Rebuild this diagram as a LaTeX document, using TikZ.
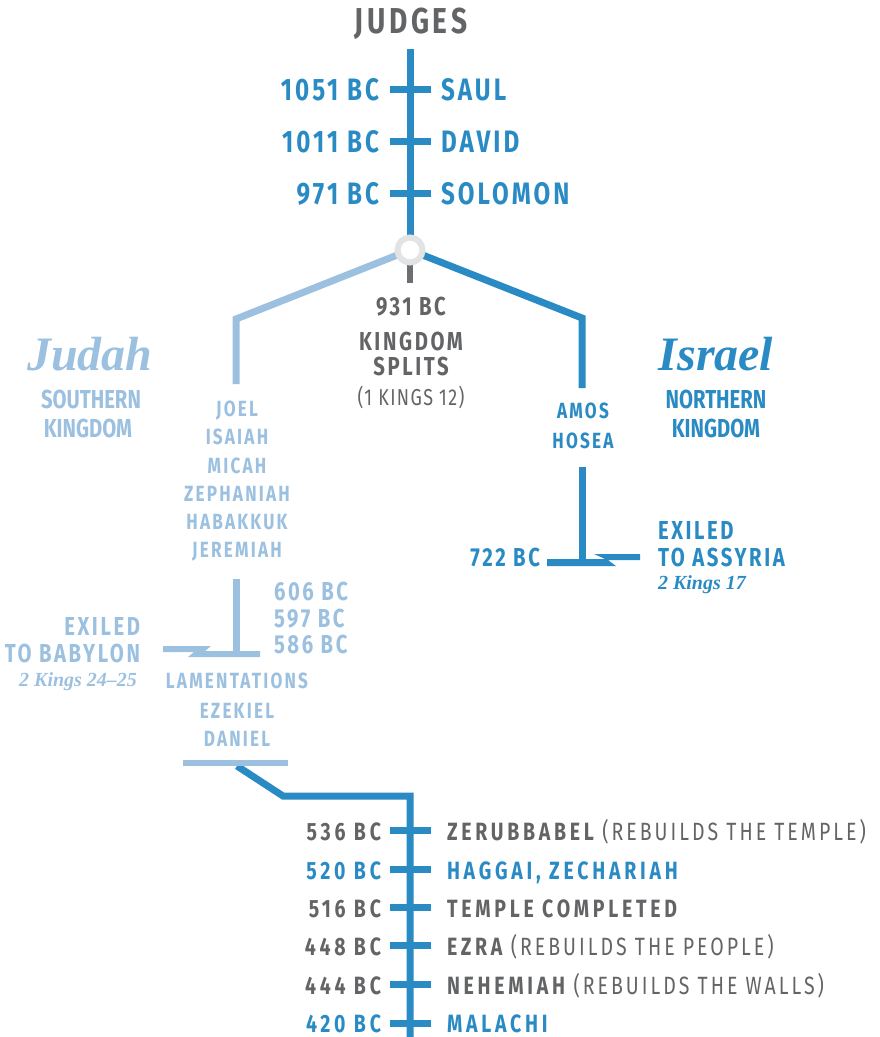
\documentclass[tikz,border=0pt]{standalone}
\usepackage{fontspec}
\setmainfont{Fira Sans}
\newfontfamily\spc{Fira Sans}[FakeStretch=0.78,LetterSpace=10]
\newfontfamily\spw{Fira Sans}[FakeStretch=0.78,LetterSpace=15]
\newfontfamily\spp{Fira Sans}[FakeStretch=0.78,LetterSpace=12]
\newfontfamily\spl{Fira Sans}[FakeStretch=0.78,LetterSpace=6]
\newfontfamily\cnd{Fira Sans}[FakeStretch=0.78]
\newfontfamily\ser{Liberation Serif}
\definecolor{db}{HTML}{2A8BC4}
\definecolor{lb}{HTML}{9CC0E0}
\definecolor{gt}{HTML}{636466}
\definecolor{ringc}{HTML}{E2E3E5}
\definecolor{stubc}{HTML}{6D6E71}
\begin{document}
\begin{tikzpicture}[x=1pt,y=-1pt,
  txt/.style={inner sep=0pt,outer sep=0pt},
  fjudges/.style={txt,text=gt,font=\spc\bfseries\fontsize{36}{36}\selectfont},
  ftop/.style={txt,text=db,font=\spc\bfseries\fontsize{31}{31}\selectfont},
  fmid/.style={txt,text=gt,font=\spc\bfseries\fontsize{26}{26}\selectfont},
  fparen/.style={txt,text=gt,font=\spl\fontsize{23}{23}\selectfont},
  fking/.style={txt,font=\cnd\bfseries\fontsize{26}{26}\selectfont},
  fproph/.style={txt,font=\spc\bfseries\fontsize{22}{22}\selectfont},
  fex/.style={txt,font=\spc\bfseries\fontsize{26}{26}\selectfont},
  flow/.style={txt,font=\spw\bfseries\fontsize{25}{25}\selectfont},
  fref/.style={txt,font=\ser\bfseries\itshape\fontsize{20}{20}\selectfont},
  fscript/.style={txt,font=\ser\bfseries\itshape\fontsize{48}{48}\selectfont},
  dline/.style={draw=db,line width=7pt},
  lline/.style={draw=lb,line width=7pt},
  tick/.style={draw=db,line width=7pt},
]
\useasboundingbox (0,0) rectangle (879,1037);

% ---------- top timeline ----------
\node[fjudges,anchor=base] (judges) at (411,33) {JUDGES};
\coordinate (top) at (410,49);
\coordinate (split) at (410,250);
\draw[dline] (top) -- (split);
\foreach \y/\n in {89/saul,141/david,193/solomon}{
  \coordinate (\n-l) at (390,\y);
  \coordinate (\n-r) at (431,\y);
  \draw[tick] (\n-l) -- (\n-r);
}
\node[ftop,anchor=base east] (d1051) at (379,100) {1051 BC};
\node[ftop,anchor=base west] (saul) at (441,100) {SAUL};
\node[ftop,anchor=base east] (d1011) at (379,152) {1011 BC};
\node[ftop,anchor=base west] (david) at (441,152) {DAVID};
\node[ftop,anchor=base east] (d971) at (379,204) {971 BC};
\node[ftop,anchor=base west] (solomon) at (441,204) {SOLOMON};

% ---------- split ----------
\coordinate (jcorner) at (236,319);
\coordinate (jend) at (236,384);
\coordinate (icorner) at (582,318);
\coordinate (iend) at (582,388);
\coordinate (stubend) at (410,283);
\draw[lline,line join=miter] (split) -- (jcorner) -- (jend);
\draw[dline,line join=miter] (split) -- (icorner) -- (iend);
\draw[draw=stubc,line width=6pt] (split) -- (stubend);
\node[circle,draw=ringc,fill=white,line width=6pt,minimum size=25pt,inner sep=0pt] (splitc) at (split) {};

\node[fmid,anchor=base] (d931) at (411,315) {931 BC};
\node[fmid,anchor=base] (ks1) at (411,350) {KINGDOM};
\node[fmid,anchor=base] (ks2) at (411,375) {SPLITS};
\node[fparen,anchor=base] (ks3) at (411,405) {(1 KINGS 12)};

% ---------- Judah ----------
\node[fscript,text=lb,anchor=base] (judah) at (90,370) {Judah};
\node[fking,text=lb,anchor=base] (south1) at (91,408) {SOUTHERN};
\node[fking,text=lb,anchor=base] (south2) at (88,437) {KINGDOM};
\foreach \t/\b/\n in {JOEL/416/p1,ISAIAH/444/p2,MICAH/473/p3,ZEPHANIAH/501/p4,HABAKKUK/529/p5,JEREMIAH/557/p6}{
  \node[fproph,text=lb,anchor=base] (\n) at (237,\b) {\t};
}
\coordinate (jv1) at (236,579);
\coordinate (jv2) at (236,652);
\draw[lline] (jv1) -- (jv2);
\fill[lb] (163,646) -- (211,646) -- (205,651) -- (260,651) -- (260,657) -- (188,657) -- (194,652) -- (163,652) -- cycle;
\node[fex,text=lb,anchor=base west] (d606) at (274,600) {606 BC};
\node[fex,text=lb,anchor=base west] (d597) at (274,627) {597 BC};
\node[fex,text=lb,anchor=base west] (d586) at (274,653) {586 BC};
\node[fex,text=lb,anchor=base east] (exb1) at (140,635) {EXILED};
\node[fex,text=lb,anchor=base east] (exb2) at (140,662) {TO BABYLON};
\node[fref,text=lb,anchor=base east] (refb) at (137,686) {2 Kings 24–25};
\node[fproph,text=lb,anchor=base] (lam) at (237,688) {LAMENTATIONS};
\node[fproph,text=lb,anchor=base] (eze) at (237,718) {EZEKIEL};
\node[fproph,text=lb,anchor=base] (dan) at (237,746) {DANIEL};
\coordinate (rb1) at (183,763);
\coordinate (rb2) at (288,763);
\coordinate (ret0) at (237,766);
\coordinate (ret1) at (283,796);
\coordinate (ret2) at (410,796);
\coordinate (bottom) at (410,1037);
\draw[dline,line join=miter] (ret0) -- (ret1) -- (ret2) -- (bottom);
\draw[draw=lb,line width=6pt] (rb1) -- (rb2);

% ---------- Israel ----------
\node[fscript,text=db,anchor=base] (israel) at (716,370) {Israel};
\node[fking,text=db,anchor=base] (north1) at (716,408) {NORTHERN};
\node[fking,text=db,anchor=base] (north2) at (716,437) {KINGDOM};
\node[fproph,text=db,anchor=base] (amos) at (583,418) {AMOS};
\node[fproph,text=db,anchor=base] (hosea) at (583,448) {HOSEA};
\coordinate (iv1) at (582,467);
\coordinate (iv2) at (582,560);
\draw[dline] (iv1) -- (iv2);
\fill[db] (547,559) -- (605,559) -- (594,554) -- (640,554) -- (640,560) -- (608,560) -- (616,566) -- (547,566) -- cycle;
\node[fex,text=db,anchor=base east] (d722) at (540,566) {722 BC};
\node[fex,text=db,anchor=base west] (exa1) at (658,539) {EXILED};
\node[fex,text=db,anchor=base west] (exa2) at (658,566) {TO ASSYRIA};
\node[fref,text=db,anchor=base west] (refa) at (658,589) {2 Kings 17};

% ---------- return ----------
\foreach \y/\n in {830/t1,869/t2,907/t3,945/t4,984/t5,1023/t6}{
  \coordinate (\n-l) at (390,\y);
  \coordinate (\n-r) at (431,\y);
  \draw[tick] (\n-l) -- (\n-r);
}
\node[flow,text=gt,anchor=base east] (d536) at (381,840) {536 BC};
\node[flow,text=db,anchor=base east] (d520) at (381,879) {520 BC};
\node[flow,text=gt,anchor=base east] (d516) at (381,917) {516 BC};
\node[flow,text=gt,anchor=base east] (d448) at (381,955) {448 BC};
\node[flow,text=gt,anchor=base east] (d444) at (381,994) {444 BC};
\node[flow,text=db,anchor=base east] (d420) at (381,1032) {420 BC};
\node[flow,text=gt,anchor=base west] (n536) at (447,840) {ZERUBBABEL {\spp\mdseries (REBUILDS THE TEMPLE)}};
\node[flow,text=db,anchor=base west] (n520) at (447,879) {HAGGAI, ZECHARIAH};
\node[flow,text=gt,anchor=base west] (n516) at (447,917) {TEMPLE COMPLETED};
\node[flow,text=gt,anchor=base west] (n448) at (447,955) {EZRA {\spp\mdseries (REBUILDS THE PEOPLE)}};
\node[flow,text=gt,anchor=base west] (n444) at (447,994) {NEHEMIAH {\spp\mdseries (REBUILDS THE WALLS)}};
\node[flow,text=db,anchor=base west] (n420) at (447,1032) {MALACHI};
\end{tikzpicture}
\end{document}
